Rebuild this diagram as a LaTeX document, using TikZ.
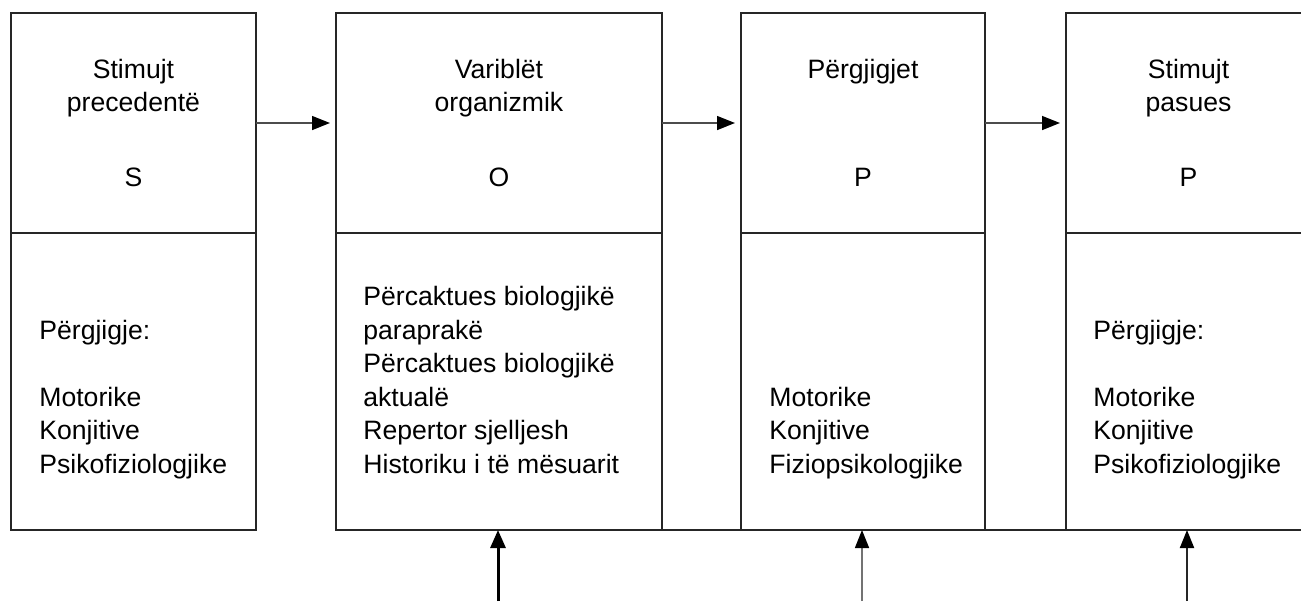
\documentclass[tikz,border=0pt]{standalone}
\usepackage{fontspec}
\setmainfont{Liberation Sans}
\usetikzlibrary{arrows.meta}
\begin{document}
\begin{tikzpicture}[x=0.5pt,y=-0.5pt,
  part/.style={draw=black!85, line width=0.8pt, inner sep=0pt, outer sep=0pt},
  edge/.style={draw=black!85, line width=0.8pt},
  ttl/.style={font=\fontsize{13.3}{16}\selectfont, inner sep=0pt, anchor=base},
  lst/.style={font=\fontsize{13.3}{16}\selectfont, inner sep=0pt, anchor=base west},
  harr/.style={draw=black!70, line width=0.75pt, shorten >=3pt, -{Triangle[length=9pt,width=7pt,color=black]}},
  varrthick/.style={draw=black, line width=1.5pt, -{Triangle[length=9pt,width=7.5pt,color=black]}},
  varrthin/.style={draw=black!55, line width=0.75pt, -{Triangle[length=9pt,width=7pt,color=black]}},
  varrmid/.style={draw=black!85, line width=1pt, -{Triangle[length=9pt,width=7pt,color=black]}}
]
\useasboundingbox (0,0) rectangle (1301,601);

% boxes
\node[part, minimum width=122.5pt, minimum height=110pt] (Stop) at (133.5,123) {};
\node[part, minimum width=122.5pt, minimum height=148.5pt] (Sbot) at (133.5,381.5) {};
\node[part, minimum width=163pt, minimum height=110pt] (Otop) at (499,123) {};
\node[part, minimum width=163pt, minimum height=148.5pt] (Obot) at (499,381.5) {};
\node[part, minimum width=122pt, minimum height=110pt] (Ptop) at (863,123) {};
\node[part, minimum width=122pt, minimum height=148.5pt] (Pbot) at (863,381.5) {};
\node[part, minimum width=122.5pt, minimum height=110pt] (Rtop) at (1188.5,123) {};
\node[part, minimum width=122.5pt, minimum height=148.5pt] (Rbot) at (1188.5,381.5) {};

% continuous base line
\draw[edge] (Obot.south east) -- (Pbot.south west);
\draw[edge] (Pbot.south east) -- (Rbot.south west);

% horizontal arrows
\draw[harr] (Stop.east) -- (Otop.west);
\draw[harr] (Otop.east) -- (Ptop.west);
\draw[harr] (Ptop.east) -- (Rtop.west);

% vertical arrows
\coordinate (aO) at (498,601);
\coordinate (aP) at (862,601);
\coordinate (aR) at (1187,601);
\draw[varrthick] (aO) -- (aO |- Obot.south);
\draw[varrthin] (aP) -- (aP |- Pbot.south);
\draw[varrmid] (aR) -- (aR |- Rbot.south);

% S box text
\node[ttl] (s1) at (133.5,78) {Stimujt};
\node[ttl] (s2) at (133.5,111) {precedentë};
\node[ttl] (s3) at (133.5,186) {S};
\node[lst] (s4) at (39,339) {Përgjigje:};
\node[lst] (s5) at (39,406) {Motorike};
\node[lst] (s6) at (39,439.5) {Konjitive};
\node[lst] (s7) at (39,473) {Psikofiziologjike};

% O box text
\node[ttl] (o1) at (499,78) {Variblët};
\node[ttl] (o2) at (499,111) {organizmik};
\node[ttl] (o3) at (499,186) {O};
\node[lst] (o4) at (363,305.5) {Përcaktues biologjikë};
\node[lst] (o5) at (363,339) {paraprakë};
\node[lst] (o6) at (363,372.5) {Përcaktues biologjikë};
\node[lst] (o7) at (363,406) {aktualë};
\node[lst] (o8) at (363,439.5) {Repertor sjelljesh};
\node[lst] (o9) at (363,473) {Historiku i të mësuarit};

% P box text
\node[ttl] (p1) at (863,78) {Përgjigjet};
\node[ttl] (p3) at (863,186) {P};
\node[lst] (p5) at (769,406) {Motorike};
\node[lst] (p6) at (769,439.5) {Konjitive};
\node[lst] (p7) at (769,473) {Fiziopsikologjike};

% R box text
\node[ttl] (r1) at (1188.5,78) {Stimujt};
\node[ttl] (r2) at (1188.5,111) {pasues};
\node[ttl] (r3) at (1188.5,186) {P};
\node[lst] (r4) at (1093,339) {Përgjigje:};
\node[lst] (r5) at (1093,406) {Motorike};
\node[lst] (r6) at (1093,439.5) {Konjitive};
\node[lst] (r7) at (1093,473) {Psikofiziologjike};
\end{tikzpicture}
\end{document}
